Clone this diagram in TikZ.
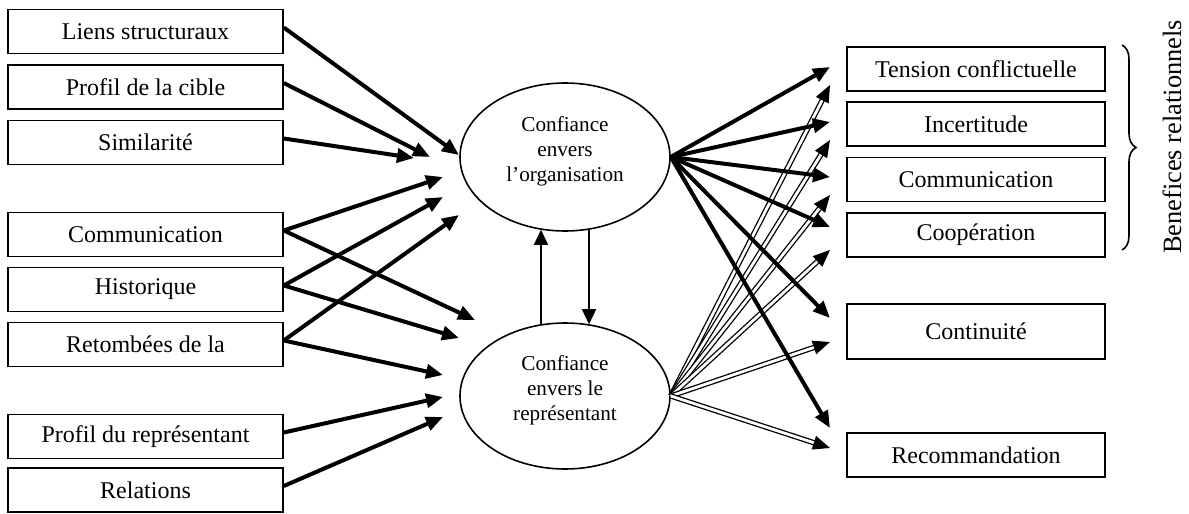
\documentclass[tikz,border=0pt]{standalone}
\usepackage{fontspec}
\setmainfont{Liberation Serif}
\usetikzlibrary{arrows.meta,shapes.geometric,decorations.pathreplacing,calc}
\begin{document}
\begin{tikzpicture}[x=0.5pt,y=-0.5pt,
 box/.style={draw,line width=0.8pt,inner sep=0pt,font=\fontsize{12}{14}\selectfont},
 lbox/.style={box,minimum width=137.5pt,minimum height=22pt},
 rbox/.style={box,minimum width=129pt,minimum height=22pt},
 ell/.style={draw,ellipse,line width=0.8pt,minimum width=105pt,minimum height=74pt,inner sep=0pt,align=center,text depth=8pt,font=\fontsize{10.6}{12.5}\selectfont},
 thickarr/.style={line width=2pt,-{Triangle[length=8.5pt,width=7pt]}},
 dblarr/.style={double,line width=0.65pt,double distance=1.4pt,-{Triangle[length=8.5pt,width=7pt]}},
 thinarr/.style={line width=0.8pt,-{Triangle[length=7.5pt,width=7pt]}},
]
\useasboundingbox (0,0) rectangle (1189,514);

% left boxes
\node[lbox] (L1) at (145.5,31.5) {Liens structuraux};
\node[lbox] (L2) at (145.5,87) {Profil de la cible};
\node[lbox] (L3) at (145.5,142.5) {Similarité};
\node[lbox] (L4) at (145.5,234.5) {Communication};
\node[lbox] (L5) at (145.5,289.5) {Historique};
\node[lbox] (L6) at (145.5,344.5) {Retombées de la};
\node[lbox] (L7) at (145.5,436.5) {Profil du représentant};
\node[lbox] (L8) at (145.5,490) {Relations};

% ellipses
\node[ell] (E1) at (565,157) {Confiance\\envers\\l’organisation};
\node[ell,minimum height=73pt] (E2) at (565,396) {Confiance\\envers le\\représentant};

% right boxes
\node[rbox] (R1) at (976,69) {Tension conflictuelle};
\node[rbox] (R2) at (976,124) {Incertitude};
\node[rbox] (R3) at (976,179.5) {Communication};
\node[rbox] (R4) at (976,235) {Coopération};
\node[rbox,minimum height=27.5pt] (R5) at (976,331.5) {Continuité};
\node[rbox] (R6) at (976,455) {Recommandation};

% brace and label
\draw[line width=0.8pt,decorate,decoration={brace,amplitude=7pt}] (1122,45) -- (1122,250);
\node[rotate=90,font=\fontsize{13.2}{15}\selectfont] (BR) at (1172,137) {Benefices relationnels};

% left arrow tips
\coordinate (a1) at (459,155);
\coordinate (a2) at (430,157);
\coordinate (a3) at (414,158);
\coordinate (a4) at (443,177);
\coordinate (a5) at (443,197);
\coordinate (a6) at (459,215);
\coordinate (b4) at (475,320);
\coordinate (b5) at (459,338);
\coordinate (b6) at (443,375);
\coordinate (b7) at (443,397);
\coordinate (b8) at (443,417);

\draw[thickarr] ([yshift=2pt]L1.east) -- (a1);
\draw[thickarr] ([yshift=2pt]L2.east) -- (a2);
\draw[thickarr] ([yshift=2pt]L3.east) -- (a3);
\draw[thickarr] ([yshift=2pt]L4.east) -- (a4);
\draw[thickarr] ([yshift=2pt]L4.east) -- (b4);
\draw[thickarr] ([yshift=2pt]L5.east) -- (a5);
\draw[thickarr] ([yshift=2pt]L5.east) -- (b5);
\draw[thickarr] ([yshift=2pt]L6.east) -- (a6);
\draw[thickarr] ([yshift=2pt]L6.east) -- (b6);
\draw[thickarr] ([yshift=2pt]L7.east) -- (b7);
\draw[thickarr] ([yshift=2pt]L8.east) -- (b8);

% between ellipses
\draw[thinarr] ([xshift=-12pt,yshift=-1pt]E2.north) -- ([xshift=-12pt,yshift=1pt]E1.south);
\draw[thinarr] ([xshift=12pt,yshift=1pt]E1.south) -- ([xshift=12pt,yshift=-1pt]E2.north);

% right arrow tips
\coordinate (t1) at (830,67);
\coordinate (t2) at (830,122);
\coordinate (t3) at (830,177);
\coordinate (t4) at (830,227);
\coordinate (t5) at (830,318);
\coordinate (t6) at (830,428);
\coordinate (d1) at (830,85);
\coordinate (d2) at (830,140);
\coordinate (d3) at (830,195);
\coordinate (d4) at (830,250);
\coordinate (d5) at (830,342);
\coordinate (d6) at (830,448);

\foreach \i in {1,...,6} {
  \draw[dblarr] (E2.east) -- (d\i);
}
\foreach \i in {1,...,6} {
  \draw[thickarr] (E1.east) -- (t\i);
}
\end{tikzpicture}
\end{document}
